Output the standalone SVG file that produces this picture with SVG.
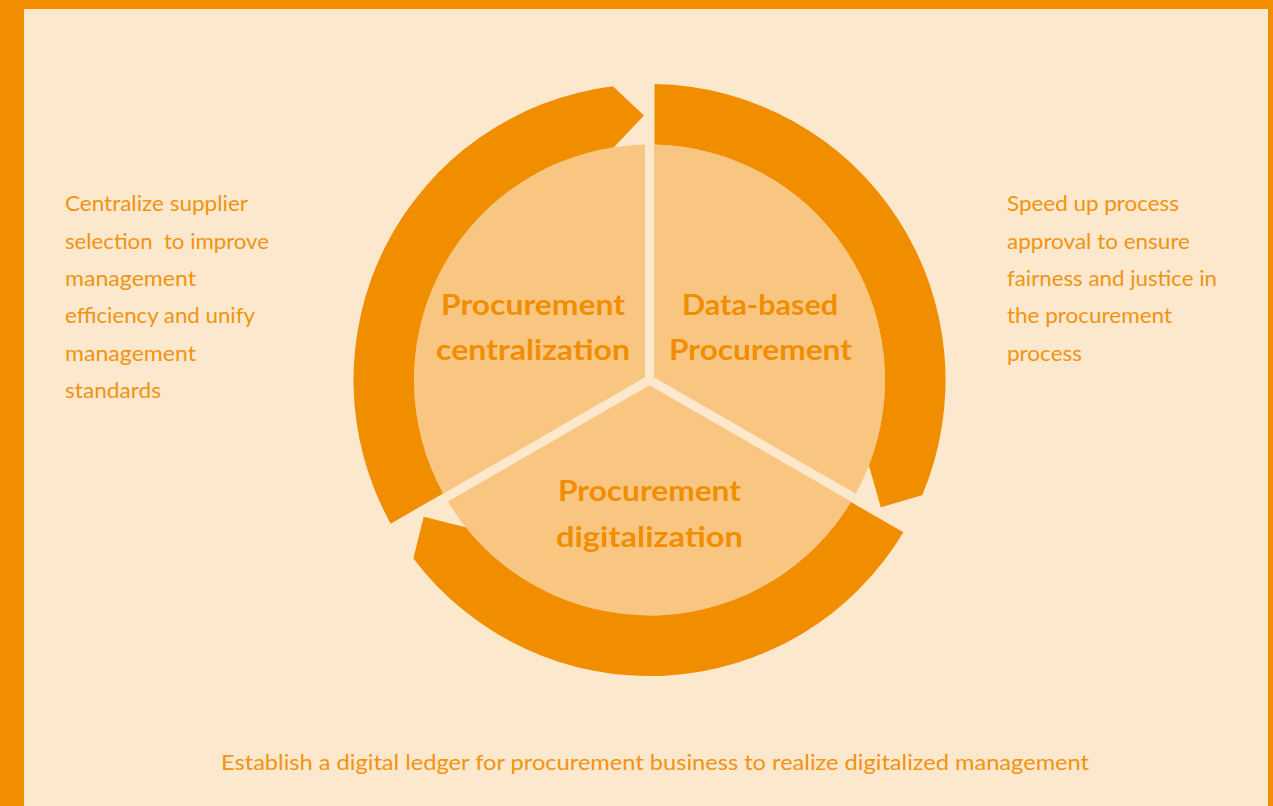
<svg xmlns="http://www.w3.org/2000/svg" width="1273" height="806" viewBox="0 0 1273 806">
  <style>
    .frame { fill: #F18E00; }
    .bg { fill: #FCE8CD; }
    .pie { fill: #F8C680; }
    .gap { stroke: #FCE8CD; stroke-width: 9; fill: none; }
    .ring { fill: #F18E00; }
    .title { font-family: Lato, "Liberation Sans", sans-serif; font-weight: bold; font-size: 28px; fill: #F18E00; text-anchor: middle; }
    .desc { font-family: Lato, "Liberation Sans", sans-serif; font-size: 21.5px; fill: #F29312; }
  </style>
  <rect class="frame" x="0" y="0" width="1273" height="806"/>
  <rect class="bg" x="24" y="9" width="1244" height="797"/>

  <g id="pie">
    <circle class="pie" cx="649.5" cy="380" r="235.5"/>
    <path class="gap" d="M649.5,380 L649.5,142 M649.5,380 L857.6,500 M649.5,380 L441.4,500"/>
  </g>

  <g id="connectors">
    <path class="ring" d="M654.5,84.04 A296,296 0 0 1 922.2,495.2 L880.8,507.2 L868.9,465.6 A235.5,235.5 0 0 0 654.5,144.55 Z"/>
    <path class="ring" d="M903.4,532.3 A296,296 0 0 1 413.4,558.5 L423.7,516.8 L465.7,527.2 A235.5,235.5 0 0 0 850.9,502.0 Z"/>
    <path class="ring" d="M390.7,523.7 A296,296 0 0 1 612.9,86.3 L644.0,115.6 L613.9,147.2 A235.5,235.5 0 0 0 443.1,493.4 Z"/>
  </g>

  <g id="node-centralization">
    <text class="title" x="533" y="315" textLength="184" lengthAdjust="spacingAndGlyphs">Procurement</text>
    <text class="title" x="533" y="360" textLength="194" lengthAdjust="spacingAndGlyphs">centralization</text>
  </g>
  <g id="node-data-based">
    <text class="title" x="760" y="315" textLength="156" lengthAdjust="spacingAndGlyphs">Data-based</text>
    <text class="title" x="760.5" y="360" textLength="183" lengthAdjust="spacingAndGlyphs">Procurement</text>
  </g>
  <g id="node-digitalization">
    <text class="title" x="649.5" y="501" textLength="183" lengthAdjust="spacingAndGlyphs">Procurement</text>
    <text class="title" x="649.5" y="547" textLength="187" lengthAdjust="spacingAndGlyphs">digitalization</text>
  </g>

  <g id="note-left">
    <text class="desc" x="65" y="211" textLength="183" lengthAdjust="spacingAndGlyphs">Centralize supplier</text>
    <text class="desc" x="65" y="248.5" textLength="204" lengthAdjust="spacingAndGlyphs" xml:space="preserve">selection  to improve</text>
    <text class="desc" x="65" y="286" textLength="131" lengthAdjust="spacingAndGlyphs">management</text>
    <text class="desc" x="65" y="323" textLength="190" lengthAdjust="spacingAndGlyphs">efficiency and unify</text>
    <text class="desc" x="65" y="360.5" textLength="131" lengthAdjust="spacingAndGlyphs">management</text>
    <text class="desc" x="65" y="398" textLength="96" lengthAdjust="spacingAndGlyphs">standards</text>
  </g>
  <g id="note-right">
    <text class="desc" x="1007" y="211" textLength="172" lengthAdjust="spacingAndGlyphs">Speed up process</text>
    <text class="desc" x="1007" y="248.5" textLength="183" lengthAdjust="spacingAndGlyphs">approval to ensure</text>
    <text class="desc" x="1007" y="286" textLength="210" lengthAdjust="spacingAndGlyphs">fairness and justice in</text>
    <text class="desc" x="1007" y="323" textLength="165" lengthAdjust="spacingAndGlyphs">the procurement</text>
    <text class="desc" x="1007" y="360.5" textLength="75" lengthAdjust="spacingAndGlyphs">process</text>
  </g>
  <g id="note-bottom">
    <text class="desc" x="221" y="770" textLength="868" lengthAdjust="spacingAndGlyphs">Establish a digital ledger for procurement business to realize digitalized management</text>
  </g>
</svg>
